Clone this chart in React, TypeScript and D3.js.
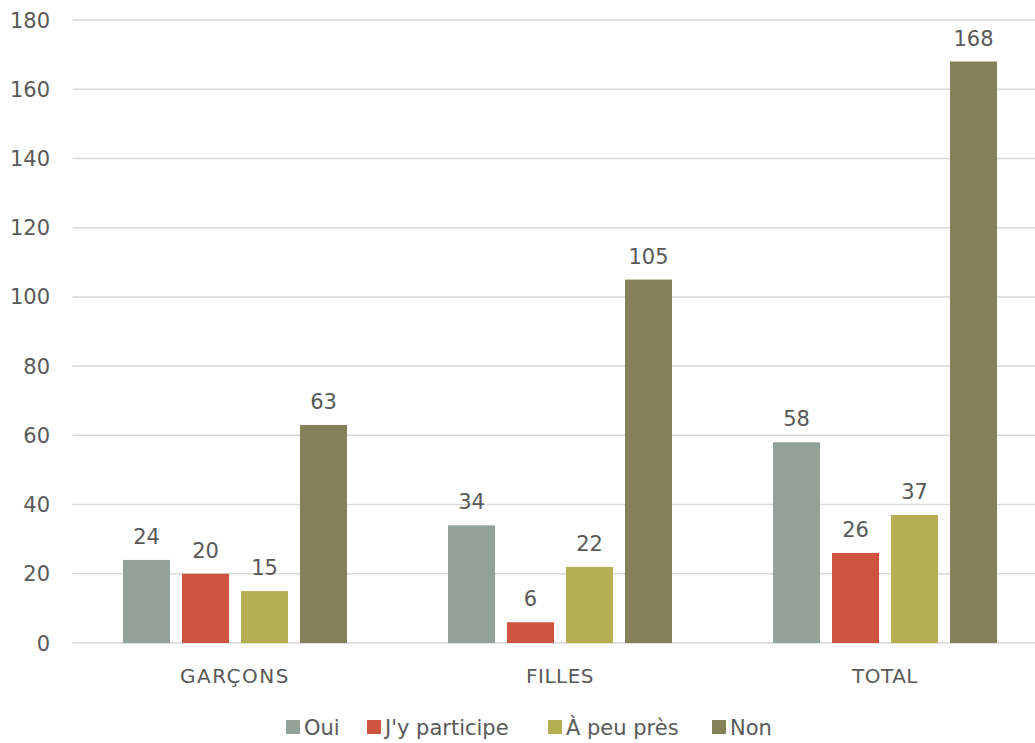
import React from "react";
import * as d3 from "d3";

const categories = ["GARÇONS", "FILLES", "TOTAL"];
const seriesNames = ["Oui", "J'y participe", "À peu près", "Non"];
const seriesColors = ["#93A299", "#CF543F", "#B5AE53", "#848058"];
const oui = [24, 34, 58];
const participe = [20, 6, 26];
const peuPres = [15, 22, 37];
const non = [63, 105, 168];
const yTicks = [0, 20, 40, 60, 80, 100, 120, 140, 160, 180];

const seriesValues = [oui, participe, peuPres, non];

const W = 1035;
const H = 743;
const FONT = "'Century Gothic', 'DejaVu Sans', sans-serif";
const TEXT = "#595959";

export default function App() {
  const left = 72.5;
  const right = 1047.5;
  const top = 20;
  const bottom = 643;

  const x0 = d3.scaleBand().domain(categories).range([left, right]).paddingInner(0).paddingOuter(0);
  const y = d3.scaleLinear().domain([0, 180]).range([bottom, top]);
  const groupWidth = 224;
  const x1 = d3
    .scaleBand()
    .domain(seriesNames)
    .range([0, groupWidth])
    .paddingInner(12 / 59)
    .paddingOuter(0);

  const legendItems = [
    { name: seriesNames[0], x: 286 },
    { name: seriesNames[1], x: 367 },
    { name: seriesNames[2], x: 548 },
    { name: seriesNames[3], x: 712 },
  ];

  return (
    <svg width={W} height={H} style={{ position: "absolute", left: 0, top: 0 }}>
      <rect width={W} height={H} fill="#fff" />
      {yTicks.map((t) => (
        <g key={t}>
          <line x1={left} x2={right} y1={y(t)} y2={y(t)} stroke="#D9D9D9" strokeWidth={1.5} />
          <text x={50} y={y(t)} dy="0.36em" textAnchor="end" fontFamily={FONT} fontSize={21} fill={TEXT}>
            {t}
          </text>
        </g>
      ))}
      {categories.map((c, ci) => {
        const gx = (x0(c) as number) + x0.bandwidth() / 2 - groupWidth / 2;
        return (
          <g key={c}>
            {seriesNames.map((s, si) => {
              const v = seriesValues[si][ci];
              const bx = gx + (x1(s) as number);
              return (
                <g key={s}>
                  <rect x={bx} y={y(v)} width={x1.bandwidth()} height={y(0) - y(v)} fill={seriesColors[si]} />
                  <text
                    x={bx + x1.bandwidth() / 2}
                    y={y(v) - 16}
                    textAnchor="middle"
                    fontFamily={FONT}
                    fontSize={21}
                    fill={TEXT}
                  >
                    {v}
                  </text>
                </g>
              );
            })}
            <text
              x={(x0(c) as number) + x0.bandwidth() / 2}
              y={683}
              textAnchor="middle"
              fontFamily={FONT}
              fontSize={20}
              letterSpacing={ci === 0 ? 1.5 : 0.5}
              fill={TEXT}
            >
              {c}
            </text>
          </g>
        );
      })}
      {legendItems.map((it, i) => (
        <g key={it.name}>
          <rect x={it.x} y={720} width={14} height={14} fill={seriesColors[i]} />
          <text x={it.x + 18} y={735} fontFamily={FONT} fontSize={21} fill={TEXT}>
            {it.name}
          </text>
        </g>
      ))}
    </svg>
  );
}
